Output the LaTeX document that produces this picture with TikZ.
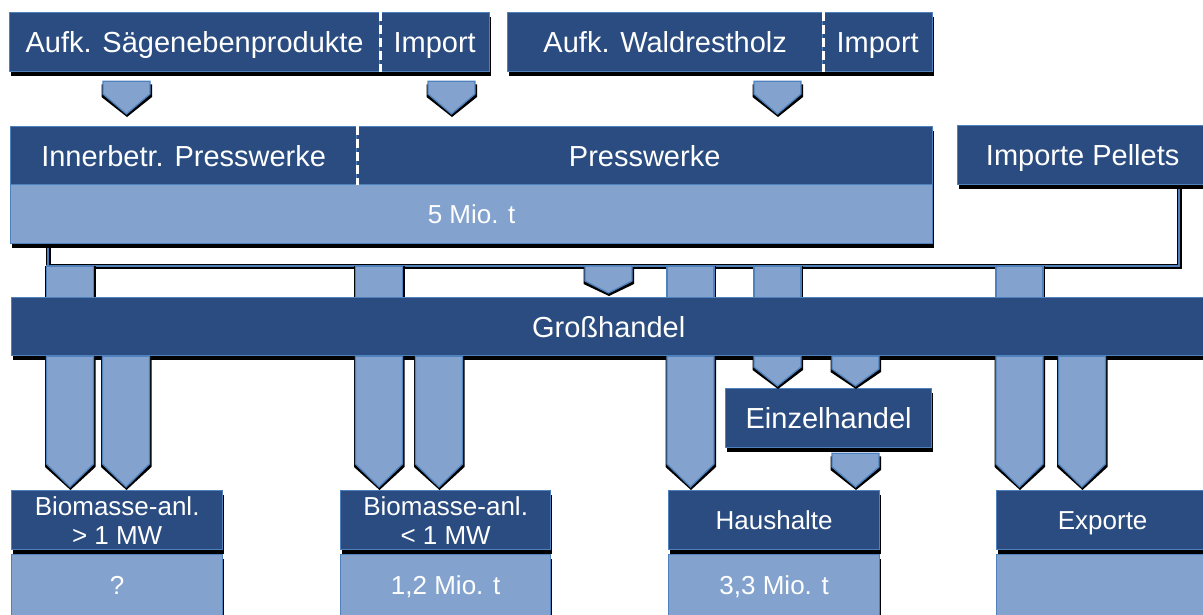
\documentclass[tikz,border=0pt]{standalone}
\usepackage{fontspec}
\setmainfont{Liberation Sans}
\usetikzlibrary{shadows,backgrounds,calc}
\definecolor{dk}{RGB}{42,76,128}
\definecolor{lt}{RGB}{131,163,206}
\definecolor{bd}{RGB}{79,129,189}
\tikzset{
  base/.style={draw=bd, line width=1.3pt, text=white, inner sep=0pt, anchor=north west, align=center,
    general shadow={fill=black, shadow xshift=1pt, shadow yshift=-4pt}},
  darkbox/.style={base, fill=dk, font=\fontsize{29}{34}\selectfont, text height=20.8pt, text depth=0pt},
  lightbox/.style={base, fill=lt, font=\fontsize{26}{30}\selectfont, text height=18.6pt, text depth=0pt},
  smalldark/.style={base, fill=dk, font=\fontsize{26}{29}\selectfont},
  smallone/.style={smalldark, text height=18.6pt, text depth=0pt},
  divider/.style={white, line width=2.5pt, dash pattern=on 9pt off 4pt},
  flowline/.style={bd, line width=2.5pt},
  flowshadow/.style={black, line width=5pt},
  arrowfill/.style={fill=lt, draw=bd, line width=1.3pt},
}
\newcommand\blkcol[3]{%
  \fill[black] let \p1=(#2), \p2=(#3) in (#1pt-25pt, \y1) rectangle (#1pt+25.5pt, \y2);
  \filldraw[arrowfill] let \p1=(#2), \p2=(#3) in (#1pt-23.5pt, \y1) rectangle (#1pt+23.5pt, \y2);
}
\newcommand\blkarrow[4]{%
  \fill[black] let \p1=(#2), \p2=(#3) in
    (#1pt-25pt, \y1-3pt) -- (#1pt+25.5pt, \y1-3pt) -- (#1pt+25.5pt, \y2+#4pt-3pt) --
    (#1pt+0.5pt, \y2-3pt) -- (#1pt-25pt, \y2+#4pt-3pt) -- cycle;
  \filldraw[arrowfill] let \p1=(#2), \p2=(#3) in
    (#1pt-23.5pt, \y1) -- (#1pt+23.5pt, \y1) -- (#1pt+23.5pt, \y2+#4pt) --
    (#1pt, \y2) -- (#1pt-23.5pt, \y2+#4pt) -- cycle;
}
\begin{document}
\begin{tikzpicture}[x=1pt,y=-1pt]
\useasboundingbox (0,0) rectangle (1203,614);

% sources
\node[darkbox, minimum width=370pt, minimum height=59pt] (s1a) at (9,12) {Aufk. Sägenebenprodukte};
\node[darkbox, minimum width=110pt, minimum height=59pt] (s1b) at (379,12) {Import};
\node[darkbox, minimum width=315pt, minimum height=59pt] (s2a) at (507,12) {Aufk. Waldrestholz};
\node[darkbox, minimum width=110pt, minimum height=59pt] (s2b) at (822,12) {Import};

% press works
\node[darkbox, minimum width=346pt, minimum height=58pt] (p1) at (10,126) {Innerbetr. Presswerke};
\node[darkbox, minimum width=576pt, minimum height=58pt] (p2) at (356,126) {Presswerke};
\node[lightbox, minimum width=922pt, minimum height=59pt] (pq) at (10,184) {5 Mio. t};
\node[darkbox, minimum width=250pt, minimum height=59pt] (imp) at (957,125) {Importe Pellets};

% wholesale and retail
\node[darkbox, minimum width=1194pt, minimum height=58pt] (gross) at (11,297) {Großhandel};
\node[darkbox, minimum width=206pt, minimum height=59pt] (einz) at (725,388) {Einzelhandel};

% consumers
\node[smalldark, minimum width=211pt, minimum height=59pt] (b1) at (11,490) {Biomasse-anl.\\> 1 MW};
\node[lightbox, minimum width=211pt, minimum height=62pt] (b1v) at (11,554) {?};
\node[smalldark, minimum width=210pt, minimum height=59pt] (b2) at (340,490) {Biomasse-anl.\\< 1 MW};
\node[lightbox, minimum width=210pt, minimum height=62pt] (b2v) at (340,554) {1,2 Mio. t};
\node[smallone, minimum width=211pt, minimum height=59pt] (b3) at (668,490) {Haushalte};
\node[lightbox, minimum width=211pt, minimum height=62pt] (b3v) at (668,554) {3,3 Mio. t};
\node[smallone, minimum width=212pt, minimum height=59pt] (b4) at (996,490) {Exporte};
\node[lightbox, minimum width=212pt, minimum height=62pt] (b4v) at (996,554) {};

% dashed dividers
\draw[divider] (s1a.north east) -- (s1a.south east);
\draw[divider] (s2a.north east) -- (s2a.south east);
\draw[divider] (p1.north east) -- (p1.south east);

% collecting line and columns into wholesale
\coordinate (lvlL) at (48,266);
\coordinate (lvlR) at (1179,266);
\begin{scope}[on background layer]
  \draw[flowshadow, yshift=-2.5pt] (pq.south -| lvlL) -- (lvlL) -- (lvlR) -- (imp.south -| lvlR);
  \draw[flowline] (pq.south -| lvlL) -- (lvlL) -- (lvlR) -- (imp.south -| lvlR);
  \blkcol{70}{lvlL}{gross.center}
  \blkcol{379}{lvlL}{gross.center}
  \blkcol{690.5}{lvlL}{gross.center}
  \blkcol{777.5}{lvlL}{gross.center}
  \blkcol{1019.5}{lvlL}{gross.center}
\end{scope}

% arrows from sources into press works
\blkarrow{126.5}{[yshift=-9pt]s1a.south}{[yshift=12pt]p1.north}{20}
\blkarrow{451.5}{[yshift=-9pt]s1b.south}{[yshift=12pt]p2.north}{20}
\blkarrow{777.5}{[yshift=-9pt]s2a.south}{[yshift=12pt]p2.north}{20}

% small arrow into wholesale
\blkarrow{608.5}{lvlL}{[yshift=4pt]gross.north}{12}

% arrows from wholesale
\blkarrow{70}{gross.south}{[yshift=3pt]b1.north}{23}
\blkarrow{126}{gross.south}{[yshift=3pt]b1.north}{23}
\blkarrow{379}{gross.south}{[yshift=3pt]b2.north}{23}
\blkarrow{439}{gross.south}{[yshift=3pt]b2.north}{23}
\blkarrow{690.5}{gross.south}{[yshift=3pt]b3.north}{23}
\blkarrow{777.5}{gross.south}{[yshift=2pt]einz.north}{19}
\blkarrow{855.5}{gross.south}{[yshift=2pt]einz.north}{17}
\blkarrow{855.5}{[yshift=-5pt]einz.south}{[yshift=3pt]b3.north}{20}
\blkarrow{1019.5}{gross.south}{[yshift=3pt]b4.north}{23}
\blkarrow{1082}{gross.south}{[yshift=3pt]b4.north}{23}
\end{tikzpicture}
\end{document}
